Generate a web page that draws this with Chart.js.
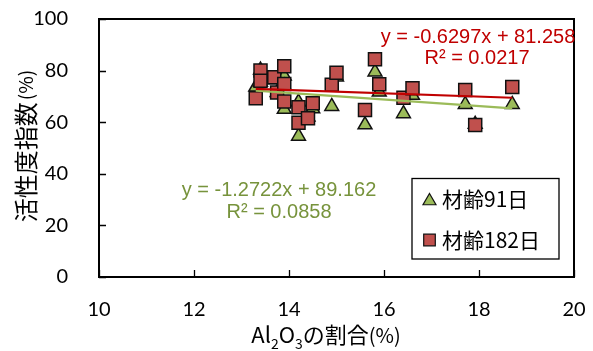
<!DOCTYPE html>
<html>
<head>
<meta charset="utf-8">
<script src="https://cdn.jsdelivr.net/npm/chart.js@4.4.1/dist/chart.umd.min.js"></script>
<style>
  html, body { margin: 0; padding: 0; background: #ffffff; }
  #wrap { width: 593px; height: 351px; }
</style>
</head>
<body>
<div id="wrap"><canvas id="c" width="593" height="351"></canvas></div>
<script>
// Series labels
const seriesNames = ['材齢91日', '材齢182日'];

// Al2O3 content (%) and activity index (%) at 91 days
const age91X = [13.30, 13.40, 13.40, 13.69, 13.75, 13.90, 13.90, 13.90, 14.20, 14.20, 14.40,
                14.50, 14.90, 15.00, 15.60, 15.81, 15.90, 16.41, 16.60, 17.71, 17.92, 18.70];
const age91Y = [73.6, 80.2, 75.5, 76.5, 71.5, 77.9, 74.0, 65.0, 67.8, 54.6, 62.0,
                65.2, 66.1, 77.5, 59.0, 79.5, 71.7, 63.3, 70.4, 66.9, 59.2, 66.9];

// Al2O3 content (%) and activity index (%) at 182 days
const age182X = [13.30, 13.40, 13.40, 13.69, 13.75, 13.90, 13.90, 13.90, 14.20, 14.20, 14.40,
                 14.50, 14.90, 15.00, 15.60, 15.81, 15.90, 16.41, 16.60, 17.71, 17.92, 18.70];
const age182Y = [69.3, 80.0, 76.1, 77.4, 71.5, 81.7, 74.8, 68.0, 65.8, 59.8, 61.5,
                 67.3, 74.5, 79.2, 64.7, 84.4, 74.7, 69.5, 73.2, 72.5, 58.9, 73.6];

// Linear fits (91 days, 182 days)
const fitSlope = [-1.2722, -0.6297];
const fitIntercept = [89.162, 81.258];
const fitR2 = ['0.0858', '0.0217'];
const fitRange = [13.3, 18.7];

// Axis ticks
const xTicks = [10, 12, 14, 16, 18, 20];
const yTicks = [0, 20, 40, 60, 80, 100];

const GREEN = '#9BBB59';
const RED = '#C0504D';
const GREEN_TXT = '#77933C';
const RED_TXT = '#C00000';

const toPoints = (xs, ys) => xs.map((x, i) => ({ x: x, y: ys[i] }));
const fitLine = (k) => fitRange.map(x => ({ x: x, y: fitSlope[k] * x + fitIntercept[k] }));
const fmtEq = (k) => 'y = ' + fitSlope[k].toFixed(4) + 'x + ' + fitIntercept[k].toFixed(3);

const markerStyle = [
  { pointStyle: 'triangle', radius: 8, backgroundColor: GREEN, borderColor: '#111', borderWidth: 1.5 },
  { pointStyle: 'rect', radius: 9.2, backgroundColor: RED, borderColor: '#111', borderWidth: 1.5 }
];

const JP = '"Noto Sans CJK JP"';

// Frame, inward tick marks, axis titles, fit equations and legend
const decorations = {
  id: 'decorations',
  afterDraw(chart) {
    const { ctx, chartArea: a, scales } = chart;
    ctx.save();
    // inward tick marks
    ctx.strokeStyle = '#000';
    ctx.lineWidth = 1.3;
    ctx.beginPath();
    xTicks.forEach(v => {
      const px = Math.round(scales.x.getPixelForValue(v)) + 0.5;
      ctx.moveTo(px, a.bottom); ctx.lineTo(px, a.bottom - 7);
    });
    yTicks.forEach(v => {
      const py = Math.round(scales.y.getPixelForValue(v)) + 0.5;
      ctx.moveTo(a.left, py); ctx.lineTo(a.left + 7, py);
    });
    ctx.stroke();
    // frame
    ctx.lineWidth = 2;
    ctx.strokeRect(a.left, a.top, a.right - a.left, a.bottom - a.top);

    // fit equations
    ctx.font = '20px "Liberation Sans", Arial, sans-serif';
    ctx.textAlign = 'center';
    ctx.textBaseline = 'middle';
    ctx.fillStyle = RED_TXT;
    ctx.fillText(fmtEq(1), 478, 37);
    ctx.fillText('R² = ' + fitR2[1], 477, 58);
    ctx.fillStyle = GREEN_TXT;
    ctx.fillText(fmtEq(0), 279, 190);
    ctx.fillText('R² = ' + fitR2[0], 279, 212);

    // y title (rotated)
    ctx.fillStyle = '#000';
    ctx.save();
    ctx.translate(26, 146);
    ctx.rotate(-Math.PI / 2);
    ctx.textBaseline = 'middle';
    const yMain = '活性度指数';
    const yUnit = '(%)';
    ctx.font = '19px ' + JP;
    const wUnit = ctx.measureText(yUnit).width;
    ctx.font = '24px ' + JP;
    const wMain = ctx.measureText(yMain).width;
    const total = wMain + 2 + wUnit;
    ctx.textAlign = 'left';
    ctx.fillText(yMain, -total / 2, 0);
    ctx.font = '19px ' + JP;
    ctx.fillText(yUnit, -total / 2 + wMain + 2, 0);
    ctx.restore();

    // x title with subscripts
    const parts = [
      { t: 'Al', f: '22px ' + JP, dy: 0 },
      { t: '2', f: '14px ' + JP, dy: 6 },
      { t: 'O', f: '22px ' + JP, dy: 0 },
      { t: '3', f: '14px ' + JP, dy: 6 },
      { t: 'の割合', f: '22px ' + JP, dy: 0 },
      { t: '(%)', f: '20px ' + JP, dy: 0 }
    ];
    let tw = 0;
    parts.forEach(p => { ctx.font = p.f; p.w = ctx.measureText(p.t).width; tw += p.w; });
    let cx = 326 - tw / 2;
    ctx.textAlign = 'left';
    ctx.textBaseline = 'alphabetic';
    parts.forEach(p => { ctx.font = p.f; ctx.fillText(p.t, cx, 343 + p.dy); cx += p.w; });

    // legend
    ctx.fillStyle = '#fff';
    ctx.fillRect(412, 178.5, 147, 80.5);
    ctx.strokeStyle = '#000';
    ctx.lineWidth = 1.3;
    ctx.strokeRect(412, 178.5, 147, 80.5);
    const rows = [199.5, 240];
    [0, 1].forEach(k => {
      const m = markerStyle[k];
      const lm = { pointStyle: m.pointStyle, radius: k === 0 ? 7.5 : 8.2, rotation: 0, borderWidth: 1.2 };
      ctx.fillStyle = m.backgroundColor;
      ctx.strokeStyle = m.borderColor;
      ctx.lineWidth = 1.2;
      Chart.helpers.drawPoint(ctx, lm, 429.5, rows[k] + (k === 0 ? 1.5 : 0));
      ctx.fillStyle = '#000';
      ctx.font = '21px ' + JP;
      ctx.textAlign = 'left';
      ctx.textBaseline = 'middle';
      ctx.fillText(seriesNames[k], 442, rows[k]);
    });
    ctx.restore();
  }
};

new Chart(document.getElementById('c'), {
  type: 'scatter',
  data: {
    datasets: [
      {
        label: seriesNames[0] + ' fit',
        type: 'line',
        data: fitLine(0),
        borderColor: GREEN, borderWidth: 2.2, pointRadius: 0, fill: false, order: 1
      },
      {
        label: seriesNames[1] + ' fit',
        type: 'line',
        data: fitLine(1),
        borderColor: RED_TXT, borderWidth: 2.2, pointRadius: 0, fill: false, order: 0
      },
      {
        label: seriesNames[0],
        data: toPoints(age91X, age91Y),
        pointStyle: markerStyle[0].pointStyle,
        pointRadius: markerStyle[0].radius,
        pointBackgroundColor: markerStyle[0].backgroundColor,
        pointBorderColor: markerStyle[0].borderColor,
        pointBorderWidth: markerStyle[0].borderWidth,
        order: 3
      },
      {
        label: seriesNames[1],
        data: toPoints(age182X, age182Y),
        pointStyle: markerStyle[1].pointStyle,
        pointRadius: markerStyle[1].radius,
        pointBackgroundColor: markerStyle[1].backgroundColor,
        pointBorderColor: markerStyle[1].borderColor,
        pointBorderWidth: markerStyle[1].borderWidth,
        order: 2
      }
    ]
  },
  options: {
    responsive: false,
    animation: false,
    devicePixelRatio: 1,
    layout: { padding: { left: 0, right: 19, top: 19, bottom: 0 } },
    plugins: { legend: { display: false }, tooltip: { enabled: false } },
    scales: {
      x: {
        type: 'linear', min: 10, max: 20,
        afterBuildTicks: s => { s.ticks = xTicks.map(v => ({ value: v })); },
        afterFit: s => { s.height = 74; s.paddingLeft = 0; s.paddingRight = 0; },
        grid: { display: false }, border: { display: false },
        ticks: { font: { family: 'Lato', size: 20 }, color: '#000', padding: 13, maxRotation: 0 }
      },
      y: {
        type: 'linear', min: 0, max: 100,
        afterBuildTicks: s => { s.ticks = yTicks.map(v => ({ value: v })); },
        afterFit: s => { s.width = 99; s.paddingTop = 0; s.paddingBottom = 0; },
        grid: { display: false }, border: { display: false },
        ticks: { font: { family: 'Lato', size: 20 }, color: '#000', padding: 23 }
      }
    }
  },
  plugins: [decorations]
});
</script>
</body>
</html>
